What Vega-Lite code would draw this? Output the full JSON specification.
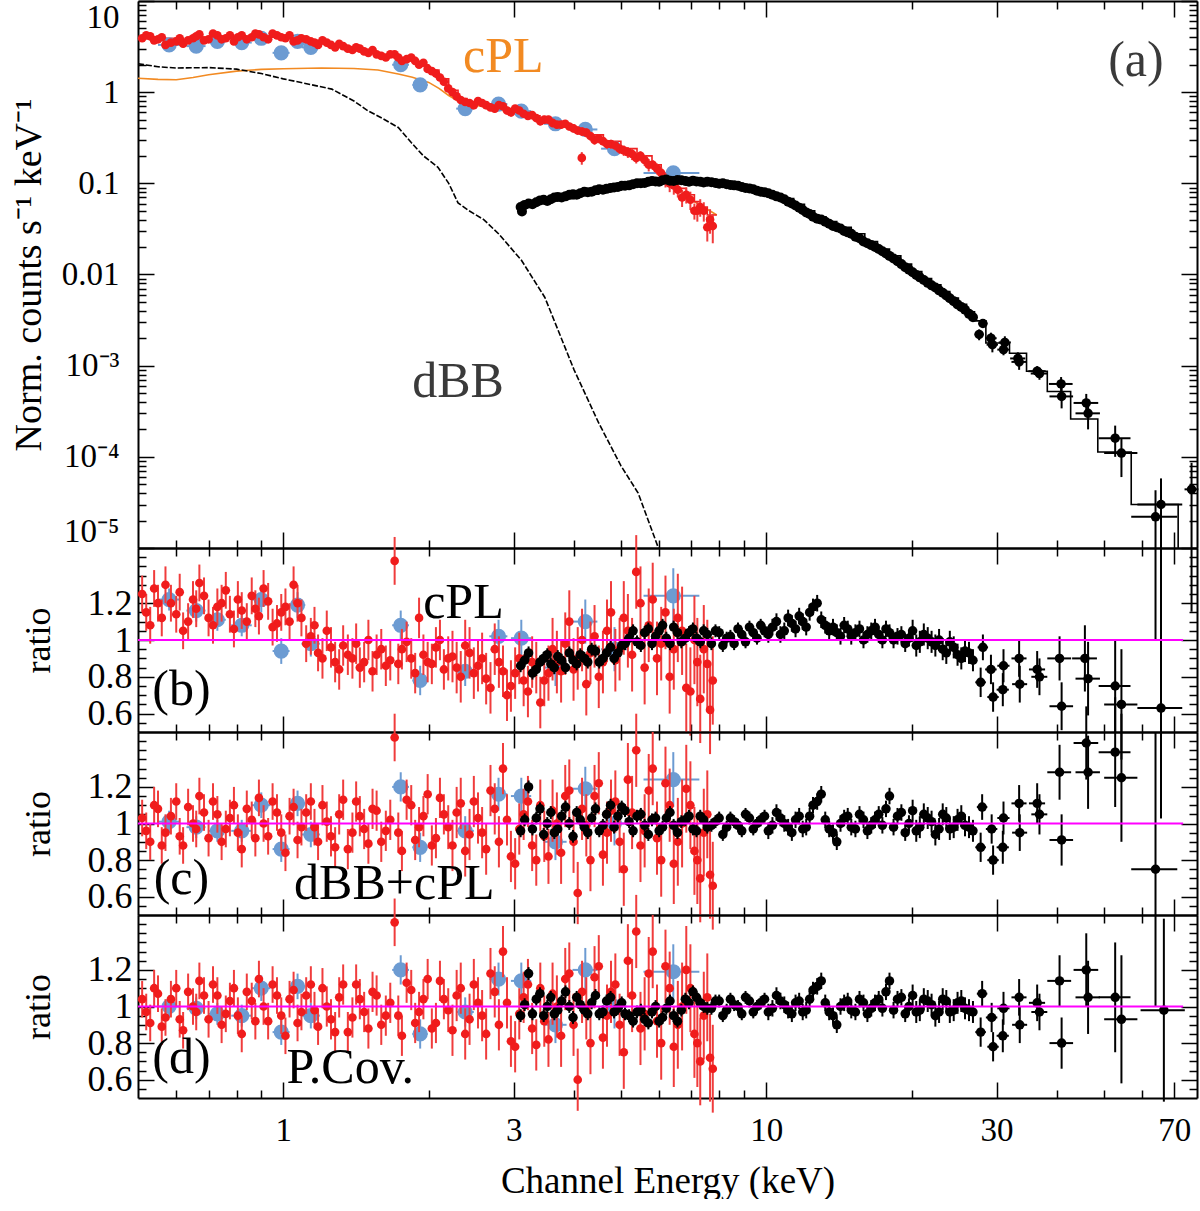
{
  "$schema": "https://vega.github.io/schema/vega-lite/v6.json",
  "background": "white",
  "padding": {"left": 9, "top": -11, "right": 0, "bottom": 0},
  "spacing": 0,
  "bounds": "flush",
  "config": {
    "view": {"stroke": null},
    "axis": {"grid": false, "domainColor": "black", "domainWidth": 2, "tickColor": "black", "tickWidth": 1.5, "labelFont": "Liberation Serif", "titleFont": "Liberation Serif", "labelColor": "black", "titleColor": "black", "titleFontWeight": "normal"}
  },
  "datasets": {
    "one": [{"x": 0.5, "y": 1}, {"x": 73, "y": 1}],
    "aO": [{"x":0.5,"y":1.42},{"x":0.55,"y":1.38},{"x":0.6,"y":1.37},{"x":0.65,"y":1.45},{"x":0.7,"y":1.55},{"x":0.8,"y":1.7},{"x":0.9,"y":1.78},{"x":1.0,"y":1.81},{"x":1.2,"y":1.84},{"x":1.4,"y":1.82},{"x":1.57,"y":1.75},{"x":1.73,"y":1.58},{"x":1.85,"y":1.46},{"x":2.0,"y":1.28},{"x":2.1,"y":1.1},{"x":2.2,"y":0.92},{"x":2.3,"y":0.8},{"x":2.5,"y":0.72},{"x":2.8,"y":0.64},{"x":3.2,"y":0.55},{"x":3.6,"y":0.46},{"x":4.0,"y":0.39},{"x":4.6,"y":0.29},{"x":5.2,"y":0.22},{"x":5.8,"y":0.16},{"x":6.4,"y":0.1},{"x":7.0,"y":0.066},{"x":7.9,"y":0.045}],
    "aD": [{"x":0.5,"y":2.05},{"x":0.55,"y":1.9},{"x":0.6,"y":1.84},{"x":0.7,"y":1.86},{"x":0.8,"y":1.79},{"x":0.9,"y":1.6},{"x":1.0,"y":1.4},{"x":1.1,"y":1.26},{"x":1.26,"y":1.08},{"x":1.4,"y":0.8},{"x":1.5,"y":0.62},{"x":1.6,"y":0.52},{"x":1.73,"y":0.41},{"x":1.84,"y":0.28},{"x":1.95,"y":0.2},{"x":2.09,"y":0.15},{"x":2.2,"y":0.1},{"x":2.3,"y":0.061},{"x":2.41,"y":0.051},{"x":2.6,"y":0.04},{"x":2.79,"y":0.028},{"x":3.11,"y":0.0144},{"x":3.48,"y":0.0056},{"x":4.0,"y":0.0009},{"x":4.49,"y":0.00024},{"x":5.0,"y":0.00008},{"x":5.43,"y":0.00004},{"x":5.98,"y":0.00001}],
    "aRm": [{"x":0.5,"y":3.9},{"x":0.6,"y":3.8},{"x":0.7,"y":4.0},{"x":0.8,"y":4.0},{"x":0.9,"y":4.0},{"x":1.0,"y":3.9},{"x":1.1,"y":3.7},{"x":1.2,"y":3.4},{"x":1.3,"y":3.1},{"x":1.4,"y":2.9},{"x":1.5,"y":2.7},{"x":1.6,"y":2.5},{"x":1.7,"y":2.35},{"x":1.8,"y":2.2},{"x":1.9,"y":2.0},{"x":2.0,"y":1.75},{"x":2.1,"y":1.4},{"x":2.2,"y":1.05},{"x":2.3,"y":0.85},{"x":2.4,"y":0.78},{"x":2.6,"y":0.72},{"x":2.8,"y":0.66},{"x":3.0,"y":0.6},{"x":3.2,"y":0.55},{"x":3.4,"y":0.5},{"x":3.6,"y":0.46},{"x":3.8,"y":0.43},{"x":4.0,"y":0.39},{"x":4.3,"y":0.34},{"x":4.6,"y":0.29},{"x":5.0,"y":0.24},{"x":5.4,"y":0.2},{"x":5.8,"y":0.16},{"x":6.06,"y":0.13},{"x":6.31,"y":0.105},{"x":6.56,"y":0.088},{"x":6.83,"y":0.075},{"x":7.1,"y":0.063},{"x":7.3,"y":0.055},{"x":7.55,"y":0.045},{"x":7.9,"y":0.045}],
    "aR": [{"x":0.51,"y":3.9,"e":0.3},{"x":0.53,"y":4.1,"e":0.3},{"x":0.55,"y":3.8,"e":0.3},{"x":0.57,"y":3.3,"e":0.3},{"x":0.6,"y":3.6,"e":0.3},{"x":0.62,"y":3.4,"e":0.3},{"x":0.65,"y":3.9,"e":0.3},{"x":0.67,"y":4.3,"e":0.35},{"x":0.7,"y":3.8,"e":0.3},{"x":0.73,"y":4.2,"e":0.3},{"x":0.76,"y":3.9,"e":0.3},{"x":0.79,"y":3.6,"e":0.3},{"x":0.82,"y":4.2,"e":0.3},{"x":0.86,"y":4.0,"e":0.3},{"x":0.89,"y":4.3,"e":0.3},{"x":0.93,"y":3.8,"e":0.3},{"x":0.97,"y":4.2,"e":0.3},{"x":1.01,"y":3.9,"e":0.3},{"x":1.05,"y":3.6,"e":0.25},{"x":1.09,"y":3.9,"e":0.3},{"x":1.14,"y":3.6,"e":0.25},{"x":1.18,"y":3.3,"e":0.25},{"x":1.23,"y":3.5,"e":0.25},{"x":1.28,"y":3.1,"e":0.25},{"x":1.33,"y":3.2,"e":0.25},{"x":1.39,"y":2.9,"e":0.2},{"x":1.44,"y":3.0,"e":0.2},{"x":1.5,"y":2.7,"e":0.2},{"x":1.56,"y":2.6,"e":0.2},{"x":1.63,"y":2.4,"e":0.2},{"x":1.7,"y":2.6,"e":0.2},{"x":1.76,"y":2.2,"e":0.2},{"x":1.84,"y":2.4,"e":0.2},{"x":1.91,"y":2.0,"e":0.15},{"x":1.99,"y":1.8,"e":0.15},{"x":2.07,"y":1.6,"e":0.15},{"x":2.15,"y":1.3,"e":0.12},{"x":2.24,"y":1.0,"e":0.1},{"x":2.33,"y":0.82,"e":0.08},{"x":2.43,"y":0.76,"e":0.07},{"x":2.53,"y":0.8,"e":0.07},{"x":2.63,"y":0.72,"e":0.07},{"x":2.74,"y":0.66,"e":0.06},{"x":2.85,"y":0.7,"e":0.06},{"x":2.96,"y":0.6,"e":0.06},{"x":3.08,"y":0.63,"e":0.06},{"x":3.21,"y":0.55,"e":0.05},{"x":3.34,"y":0.52,"e":0.05},{"x":3.47,"y":0.5,"e":0.05},{"x":3.61,"y":0.46,"e":0.05},{"x":3.76,"y":0.44,"e":0.04},{"x":3.91,"y":0.42,"e":0.04},{"x":4.07,"y":0.38,"e":0.04},{"x":4.15,"y":0.19,"e":0.03},{"x":4.24,"y":0.36,"e":0.04},{"x":4.41,"y":0.3,"e":0.035},{"x":4.59,"y":0.29,"e":0.03},{"x":4.77,"y":0.27,"e":0.03},{"x":4.97,"y":0.24,"e":0.03},{"x":5.17,"y":0.22,"e":0.03},{"x":5.38,"y":0.19,"e":0.025},{"x":5.6,"y":0.18,"e":0.025},{"x":5.82,"y":0.16,"e":0.02},{"x":6.06,"y":0.13,"e":0.02},{"x":6.31,"y":0.1,"e":0.02},{"x":6.56,"y":0.085,"e":0.015},{"x":6.83,"y":0.075,"e":0.015},{"x":7.1,"y":0.05,"e":0.01},{"x":7.3,"y":0.055,"e":0.012},{"x":7.55,"y":0.033,"e":0.01},{"x":7.75,"y":0.034,"e":0.012},
      {"x":0.52,"y":4.2,"e":0.3},{"x":0.54,"y":3.7,"e":0.3},{"x":0.56,"y":4.0,"e":0.3},{"x":0.585,"y":3.5,"e":0.3},{"x":0.61,"y":3.9,"e":0.3},{"x":0.635,"y":3.7,"e":0.3},{"x":0.66,"y":4.1,"e":0.3},{"x":0.685,"y":3.7,"e":0.3},{"x":0.715,"y":4.4,"e":0.3},{"x":0.745,"y":3.8,"e":0.3},{"x":0.775,"y":4.2,"e":0.3},{"x":0.805,"y":4.0,"e":0.3},{"x":0.84,"y":3.8,"e":0.3},{"x":0.875,"y":4.4,"e":0.3},{"x":0.91,"y":4.0,"e":0.3},{"x":0.95,"y":4.4,"e":0.3},{"x":0.99,"y":4.0,"e":0.3},{"x":1.03,"y":4.2,"e":0.3},{"x":1.07,"y":3.7,"e":0.25},{"x":1.115,"y":3.8,"e":0.25},{"x":1.16,"y":3.5,"e":0.25},{"x":1.205,"y":3.7,"e":0.25},{"x":1.255,"y":3.3,"e":0.25},{"x":1.305,"y":3.4,"e":0.25},{"x":1.36,"y":3.0,"e":0.2},{"x":1.415,"y":3.1,"e":0.2},{"x":1.47,"y":2.8,"e":0.2},{"x":1.53,"y":2.9,"e":0.2},{"x":1.595,"y":2.5,"e":0.2},{"x":1.665,"y":2.6,"e":0.2},{"x":1.73,"y":2.4,"e":0.2},{"x":1.8,"y":2.3,"e":0.2},{"x":1.875,"y":2.2,"e":0.2},{"x":1.95,"y":2.1,"e":0.15},{"x":2.03,"y":1.7,"e":0.15},{"x":2.11,"y":1.45,"e":0.12},{"x":2.195,"y":1.1,"e":0.1},{"x":2.285,"y":0.9,"e":0.08},{"x":2.38,"y":0.78,"e":0.07},{"x":2.48,"y":0.72,"e":0.07},{"x":2.58,"y":0.76,"e":0.07},{"x":2.685,"y":0.68,"e":0.06},{"x":2.795,"y":0.72,"e":0.06},{"x":2.905,"y":0.63,"e":0.06},{"x":3.02,"y":0.66,"e":0.06},{"x":3.145,"y":0.58,"e":0.05},{"x":3.275,"y":0.56,"e":0.05},{"x":3.405,"y":0.48,"e":0.05},{"x":3.54,"y":0.5,"e":0.05},{"x":3.685,"y":0.44,"e":0.04},{"x":3.835,"y":0.45,"e":0.04},{"x":3.99,"y":0.4,"e":0.04},{"x":4.155,"y":0.37,"e":0.04},{"x":4.325,"y":0.33,"e":0.035},{"x":4.5,"y":0.31,"e":0.035},{"x":4.68,"y":0.27,"e":0.03},{"x":4.87,"y":0.26,"e":0.03},{"x":5.07,"y":0.23,"e":0.03},{"x":5.275,"y":0.21,"e":0.03},{"x":5.49,"y":0.2,"e":0.025},{"x":5.71,"y":0.16,"e":0.025},{"x":5.94,"y":0.145,"e":0.02},{"x":6.185,"y":0.11,"e":0.02},{"x":6.435,"y":0.095,"e":0.02},{"x":6.695,"y":0.07,"e":0.015},{"x":6.965,"y":0.066,"e":0.015},{"x":7.2,"y":0.05,"e":0.012},{"x":7.425,"y":0.05,"e":0.012},{"x":7.65,"y":0.04,"e":0.012}],
    "aB": [{"x":0.58,"y":3.3,"w":0.03,"e":0.15},{"x":0.66,"y":3.2,"w":0.03,"e":0.15},{"x":0.73,"y":3.6,"w":0.03,"e":0.15},{"x":0.82,"y":3.5,"w":0.04,"e":0.15},{"x":0.9,"y":3.9,"w":0.04,"e":0.17},{"x":0.99,"y":2.7,"w":0.04,"e":0.12},{"x":1.07,"y":3.6,"w":0.04,"e":0.15},{"x":1.14,"y":3.1,"w":0.05,"e":0.13},{"x":1.75,"y":2.0,"w":0.07,"e":0.08},{"x":1.92,"y":1.2,"w":0.07,"e":0.05},{"x":2.38,"y":0.66,"w":0.1,"e":0.03},{"x":2.79,"y":0.74,"w":0.12,"e":0.03},{"x":3.11,"y":0.62,"w":0.15,"e":0.03},{"x":3.66,"y":0.45,"w":0.2,"e":0.02},{"x":4.22,"y":0.39,"w":0.25,"e":0.02},{"x":4.85,"y":0.24,"w":0.3,"e":0.015},{"x":6.42,"y":0.13,"w":0.85,"e":0.01}],
    "aK": [{"x":3.1,"y":0.055},{"x":3.12,"y":0.049},{"x":3.22,"y":0.06},{"x":3.34,"y":0.062},{"x":3.46,"y":0.066},{"x":3.58,"y":0.067},{"x":3.7,"y":0.071},{"x":3.84,"y":0.072},{"x":3.98,"y":0.076},{"x":4.12,"y":0.078},{"x":4.27,"y":0.08},{"x":4.43,"y":0.084},{"x":4.59,"y":0.085},{"x":4.76,"y":0.089},{"x":4.93,"y":0.091},{"x":5.1,"y":0.094},{"x":5.3,"y":0.098},{"x":5.5,"y":0.1},{"x":5.7,"y":0.104},{"x":5.9,"y":0.105},{"x":6.1,"y":0.108},{"x":6.32,"y":0.107},{"x":6.55,"y":0.109},{"x":6.8,"y":0.106},{"x":7.05,"y":0.107},{"x":7.3,"y":0.104},{"x":7.55,"y":0.104},{"x":7.85,"y":0.101},{"x":8.13,"y":0.1},{"x":8.43,"y":0.096},{"x":8.74,"y":0.094},{"x":9.06,"y":0.089},{"x":9.4,"y":0.086},{"x":9.74,"y":0.081},{"x":10.1,"y":0.078},{"x":10.5,"y":0.072},{"x":10.9,"y":0.067},{"x":11.3,"y":0.06},{"x":11.7,"y":0.054},{"x":12.1,"y":0.048},{"x":12.5,"y":0.043},{"x":13.0,"y":0.04},{"x":13.5,"y":0.036},{"x":14.0,"y":0.033},{"x":14.5,"y":0.03},{"x":15.0,"y":0.028},{"x":15.6,"y":0.025},{"x":16.2,"y":0.022},{"x":16.8,"y":0.02},{"x":17.4,"y":0.018},{"x":18.0,"y":0.016},{"x":18.7,"y":0.014},{"x":19.4,"y":0.012},{"x":20.1,"y":0.0106},{"x":20.8,"y":0.0093},{"x":21.6,"y":0.0081},{"x":22.4,"y":0.0072},{"x":23.2,"y":0.0063},{"x":24.0,"y":0.0055},{"x":24.9,"y":0.0047},{"x":25.8,"y":0.0041},{"x":26.8,"y":0.0034},
      {"x":3.16,"y":0.058},{"x":3.28,"y":0.059},{"x":3.4,"y":0.065},{"x":3.52,"y":0.064},{"x":3.64,"y":0.07},{"x":3.77,"y":0.07},{"x":3.91,"y":0.075},{"x":4.05,"y":0.075},{"x":4.2,"y":0.081},{"x":4.35,"y":0.081},{"x":4.51,"y":0.086},{"x":4.67,"y":0.087},{"x":4.84,"y":0.09},{"x":5.02,"y":0.094},{"x":5.2,"y":0.095},{"x":5.4,"y":0.1},{"x":5.6,"y":0.101},{"x":5.8,"y":0.106},{"x":6.0,"y":0.104},{"x":6.21,"y":0.11},{"x":6.43,"y":0.106},{"x":6.67,"y":0.108},{"x":6.92,"y":0.104},{"x":7.17,"y":0.105},{"x":7.42,"y":0.102},{"x":7.7,"y":0.103},{"x":7.99,"y":0.099},{"x":8.28,"y":0.098},{"x":8.58,"y":0.095},{"x":8.9,"y":0.091},{"x":9.23,"y":0.088},{"x":9.57,"y":0.083},{"x":9.92,"y":0.08},{"x":10.3,"y":0.075},{"x":10.7,"y":0.07},{"x":11.1,"y":0.063},{"x":11.5,"y":0.057},{"x":11.9,"y":0.051},{"x":12.3,"y":0.046},{"x":12.75,"y":0.041},{"x":13.25,"y":0.038},{"x":13.75,"y":0.034},{"x":14.25,"y":0.032},{"x":14.75,"y":0.029},{"x":15.3,"y":0.026},{"x":15.9,"y":0.023},{"x":16.5,"y":0.021},{"x":17.1,"y":0.019},{"x":17.7,"y":0.017},{"x":18.35,"y":0.015},{"x":19.05,"y":0.013},{"x":19.75,"y":0.0113},{"x":20.45,"y":0.0099},{"x":21.2,"y":0.0087},{"x":22.0,"y":0.0076},{"x":22.8,"y":0.0067},{"x":23.6,"y":0.0059},{"x":24.45,"y":0.0051},{"x":25.35,"y":0.0044},{"x":26.3,"y":0.0037}],
    "aKm": [{"x":3.05,"y":0.056},{"x":3.3,"y":0.062},{"x":3.6,"y":0.068},{"x":4.0,"y":0.076},{"x":4.5,"y":0.084},{"x":5.0,"y":0.093},{"x":5.5,"y":0.1},{"x":6.0,"y":0.106},{"x":6.6,"y":0.108},{"x":7.2,"y":0.105},{"x":7.8,"y":0.102},{"x":8.4,"y":0.097},{"x":9.0,"y":0.09},{"x":9.6,"y":0.083},{"x":10.2,"y":0.076},{"x":10.8,"y":0.068},{"x":11.4,"y":0.059},{"x":12.0,"y":0.05},{"x":12.6,"y":0.043},{"x":13.3,"y":0.038},{"x":14.0,"y":0.033},{"x":15.0,"y":0.028},{"x":16.0,"y":0.023},{"x":17.0,"y":0.019},{"x":18.0,"y":0.016},{"x":19.0,"y":0.013},{"x":20.0,"y":0.0108},{"x":21.0,"y":0.009},{"x":22.0,"y":0.0077},{"x":23.0,"y":0.0065},{"x":24.0,"y":0.0055},{"x":25.0,"y":0.0047},{"x":26.0,"y":0.0039},{"x":27.0,"y":0.0031},{"x":28.5,"y":0.00177},{"x":31.9,"y":0.00137},{"x":34.6,"y":0.00087},{"x":38.2,"y":0.00052},{"x":42.7,"y":0.00026},{"x":48.6,"y":0.000113},{"x":57,"y":0.00003},{"x":71.3,"y":0.00001}],
    "aKh": [{"x":27.6,"y":0.0022,"w":0.6,"e":0.0003},{"x":28.1,"y":0.0029,"w":0.6,"e":0.0003},{"x":29.2,"y":0.002,"w":0.8,"e":0.0003},{"x":29.4,"y":0.0017,"w":0.8,"e":0.0003},{"x":31.0,"y":0.0015,"w":0.9,"e":0.0002},{"x":31.2,"y":0.0018,"w":0.9,"e":0.0003},{"x":33.2,"y":0.0012,"w":1.2,"e":0.0002},{"x":33.4,"y":0.0011,"w":1.2,"e":0.0002},{"x":36.4,"y":0.00087,"w":1.5,"e":0.00012},{"x":36.8,"y":0.00082,"w":1.5,"e":0.00012},{"x":40.8,"y":0.00063,"w":2.3,"e":0.00012},{"x":40.9,"y":0.00046,"w":2.3,"e":0.00012},{"x":46.0,"y":0.00039,"w":2.7,"e":0.0001},{"x":46.4,"y":0.0003,"w":2.7,"e":0.0001},{"x":52.8,"y":0.00016,"w":4,"e":0.00006},{"x":54.4,"y":0.00011,"w":4.3,"e":0.00005},{"x":64.0,"y":0.000022,"w":7,"e":0.000021},{"x":65.7,"y":0.00003,"w":7,"e":0.000028},{"x":76.0,"y":0.000044,"w":2.5,"e":0.000042}],
    "aT": [{"x":58.3,"y":2.19,"t":"(a)"},{"x":2.3,"y":0.00067,"t":"dBB"}],
    "aTo": [{"x":2.855,"y":2.43,"t":"cPL"}],
    "bR": [{"x":0.51,"y":1.25,"e":0.1},{"x":0.53,"y":1.08,"e":0.1},{"x":0.55,"y":1.2,"e":0.1},{"x":0.57,"y":1.3,"e":0.1},{"x":0.6,"y":1.14,"e":0.1},{"x":0.62,"y":1.05,"e":0.1},{"x":0.65,"y":1.22,"e":0.1},{"x":0.67,"y":1.31,"e":0.1},{"x":0.7,"y":1.12,"e":0.1},{"x":0.73,"y":1.18,"e":0.1},{"x":0.76,"y":1.27,"e":0.1},{"x":0.79,"y":1.06,"e":0.1},{"x":0.82,"y":1.16,"e":0.1},{"x":0.86,"y":1.24,"e":0.1},{"x":0.89,"y":1.13,"e":0.1},{"x":0.93,"y":1.21,"e":0.1},{"x":0.97,"y":1.09,"e":0.1},{"x":1.01,"y":1.18,"e":0.1},{"x":1.05,"y":1.3,"e":0.1},{"x":1.09,"y":1.12,"e":0.1},{"x":1.14,"y":1.02,"e":0.1},{"x":1.18,"y":0.93,"e":0.1},{"x":1.23,"y":1.05,"e":0.11},{"x":1.28,"y":0.88,"e":0.11},{"x":1.33,"y":0.97,"e":0.11},{"x":1.39,"y":0.9,"e":0.11},{"x":1.44,"y":0.85,"e":0.11},{"x":1.5,"y":1.0,"e":0.11},{"x":1.56,"y":0.92,"e":0.11},{"x":1.63,"y":0.86,"e":0.11},{"x":1.7,"y":1.43,"e":0.13},{"x":1.76,"y":0.95,"e":0.11},{"x":1.84,"y":0.9,"e":0.11},{"x":1.91,"y":1.12,"e":0.11},{"x":1.99,"y":0.88,"e":0.11},{"x":2.07,"y":0.96,"e":0.11},{"x":2.15,"y":0.84,"e":0.11},{"x":2.24,"y":0.91,"e":0.14},{"x":2.33,"y":0.8,"e":0.14},{"x":2.43,"y":0.93,"e":0.14},{"x":2.53,"y":0.86,"e":0.14},{"x":2.63,"y":0.79,"e":0.14},{"x":2.74,"y":0.95,"e":0.14},{"x":2.85,"y":0.83,"e":0.14},{"x":2.96,"y":0.75,"e":0.14},{"x":3.08,"y":0.9,"e":0.14},{"x":3.21,"y":0.72,"e":0.14},{"x":3.34,"y":0.85,"e":0.14},{"x":3.47,"y":0.78,"e":0.14},{"x":3.61,"y":0.95,"e":0.17},{"x":3.76,"y":0.83,"e":0.17},{"x":3.91,"y":1.1,"e":0.17},{"x":4.07,"y":0.9,"e":0.17},{"x":4.24,"y":0.76,"e":0.17},{"x":4.41,"y":1.02,"e":0.17},{"x":4.59,"y":0.88,"e":0.17},{"x":4.77,"y":1.15,"e":0.17},{"x":4.97,"y":0.95,"e":0.17},{"x":5.17,"y":1.05,"e":0.2},{"x":5.38,"y":1.37,"e":0.2},{"x":5.6,"y":0.85,"e":0.2},{"x":5.82,"y":1.22,"e":0.2},{"x":6.06,"y":0.98,"e":0.2},{"x":6.31,"y":0.8,"e":0.2},{"x":6.56,"y":1.12,"e":0.24},{"x":6.83,"y":0.74,"e":0.24},{"x":7.1,"y":1.0,"e":0.24},{"x":7.3,"y":0.68,"e":0.24},{"x":7.55,"y":0.87,"e":0.24},{"x":7.75,"y":0.78,"e":0.24},
      {"x":0.52,"y":1.15,"e":0.1},{"x":0.54,"y":1.28,"e":0.1},{"x":0.56,"y":1.12,"e":0.1},{"x":0.585,"y":1.2,"e":0.1},{"x":0.61,"y":1.26,"e":0.1},{"x":0.635,"y":1.1,"e":0.1},{"x":0.66,"y":1.17,"e":0.1},{"x":0.685,"y":1.24,"e":0.1},{"x":0.715,"y":1.08,"e":0.1},{"x":0.745,"y":1.2,"e":0.1},{"x":0.775,"y":1.14,"e":0.1},{"x":0.805,"y":1.22,"e":0.1},{"x":0.84,"y":1.1,"e":0.1},{"x":0.875,"y":1.17,"e":0.1},{"x":0.91,"y":1.28,"e":0.1},{"x":0.95,"y":1.07,"e":0.1},{"x":0.99,"y":1.15,"e":0.1},{"x":1.03,"y":1.1,"e":0.1},{"x":1.07,"y":1.2,"e":0.1},{"x":1.115,"y":0.98,"e":0.1},{"x":1.16,"y":1.08,"e":0.1},{"x":1.205,"y":0.9,"e":0.11},{"x":1.255,"y":0.96,"e":0.11},{"x":1.305,"y":0.84,"e":0.11},{"x":1.36,"y":0.92,"e":0.11},{"x":1.415,"y":0.98,"e":0.11},{"x":1.47,"y":0.88,"e":0.11},{"x":1.53,"y":0.83,"e":0.11},{"x":1.595,"y":0.95,"e":0.11},{"x":1.665,"y":0.89,"e":0.11},{"x":1.73,"y":0.87,"e":0.11},{"x":1.8,"y":0.99,"e":0.11},{"x":1.875,"y":0.82,"e":0.11},{"x":1.95,"y":0.92,"e":0.11},{"x":2.03,"y":0.87,"e":0.11},{"x":2.11,"y":1.0,"e":0.11},{"x":2.195,"y":0.9,"e":0.12},{"x":2.285,"y":0.85,"e":0.14},{"x":2.38,"y":0.97,"e":0.14},{"x":2.48,"y":0.82,"e":0.14},{"x":2.58,"y":0.9,"e":0.14},{"x":2.685,"y":0.74,"e":0.14},{"x":2.795,"y":0.88,"e":0.14},{"x":2.905,"y":0.7,"e":0.14},{"x":3.02,"y":0.82,"e":0.14},{"x":3.145,"y":0.78,"e":0.14},{"x":3.275,"y":0.88,"e":0.14},{"x":3.405,"y":0.66,"e":0.14},{"x":3.54,"y":0.82,"e":0.15},{"x":3.685,"y":0.88,"e":0.17},{"x":3.835,"y":0.98,"e":0.17},{"x":3.99,"y":0.84,"e":0.17},{"x":4.155,"y":1.0,"e":0.17},{"x":4.325,"y":0.93,"e":0.17},{"x":4.5,"y":0.8,"e":0.17},{"x":4.68,"y":1.05,"e":0.17},{"x":4.87,"y":0.89,"e":0.17},{"x":5.07,"y":1.12,"e":0.2},{"x":5.275,"y":0.92,"e":0.2},{"x":5.49,"y":1.2,"e":0.2},{"x":5.71,"y":1.08,"e":0.2},{"x":5.94,"y":0.9,"e":0.2},{"x":6.185,"y":1.15,"e":0.2},{"x":6.435,"y":0.95,"e":0.22},{"x":6.695,"y":1.05,"e":0.24},{"x":6.965,"y":0.72,"e":0.24},{"x":7.2,"y":0.88,"e":0.24},{"x":7.425,"y":0.95,"e":0.24},{"x":7.65,"y":0.62,"e":0.24}],
    "bB": [{"x":0.58,"y":1.22,"w":0.03,"e":0.06},{"x":0.66,"y":1.16,"w":0.03,"e":0.06},{"x":0.73,"y":1.11,"w":0.03,"e":0.06},{"x":0.82,"y":1.08,"w":0.04,"e":0.06},{"x":0.9,"y":1.22,"w":0.04,"e":0.07},{"x":0.99,"y":0.94,"w":0.04,"e":0.07},{"x":1.07,"y":1.19,"w":0.04,"e":0.07},{"x":1.14,"y":0.98,"w":0.05,"e":0.07},{"x":1.75,"y":1.08,"w":0.07,"e":0.08},{"x":1.92,"y":0.78,"w":0.07,"e":0.08},{"x":2.38,"y":0.83,"w":0.1,"e":0.08},{"x":2.79,"y":1.02,"w":0.12,"e":0.09},{"x":3.11,"y":1.01,"w":0.15,"e":0.1},{"x":3.66,"y":0.85,"w":0.2,"e":0.1},{"x":4.22,"y":1.1,"w":0.25,"e":0.12},{"x":4.85,"y":0.95,"w":0.3,"e":0.12},{"x":6.42,"y":1.24,"w":0.85,"e":0.15}],
    "bK": [{"x":3.1,"y":0.86,"e":0.035},{"x":3.22,"y":0.93,"e":0.035},{"x":3.34,"y":0.84,"e":0.035},{"x":3.46,"y":0.9,"e":0.035},{"x":3.58,"y":0.87,"e":0.035},{"x":3.7,"y":0.91,"e":0.035},{"x":3.84,"y":0.85,"e":0.035},{"x":3.98,"y":0.89,"e":0.035},{"x":4.12,"y":0.92,"e":0.035},{"x":4.27,"y":0.88,"e":0.035},{"x":4.43,"y":0.94,"e":0.035},{"x":4.59,"y":0.9,"e":0.035},{"x":4.76,"y":0.96,"e":0.035},{"x":4.93,"y":0.93,"e":0.035},{"x":5.1,"y":0.98,"e":0.035},{"x":5.3,"y":1.05,"e":0.035},{"x":5.5,"y":0.97,"e":0.035},{"x":5.7,"y":1.06,"e":0.035},{"x":5.9,"y":1.02,"e":0.035},{"x":6.1,"y":1.08,"e":0.035},{"x":6.32,"y":0.98,"e":0.035},{"x":6.55,"y":1.04,"e":0.035},{"x":6.8,"y":1.01,"e":0.035},{"x":7.05,"y":1.06,"e":0.035},{"x":7.3,"y":0.99,"e":0.035},{"x":7.55,"y":1.03,"e":0.035},{"x":7.85,"y":1.05,"e":0.035},{"x":8.13,"y":0.97,"e":0.035},{"x":8.43,"y":1.02,"e":0.035},{"x":8.74,"y":1.06,"e":0.035},{"x":9.06,"y":0.99,"e":0.035},{"x":9.4,"y":1.04,"e":0.035},{"x":9.74,"y":1.08,"e":0.035},{"x":10.1,"y":1.03,"e":0.045},{"x":10.5,"y":1.1,"e":0.045},{"x":10.9,"y":1.05,"e":0.045},{"x":11.3,"y":1.09,"e":0.045},{"x":11.7,"y":1.13,"e":0.045},{"x":12.1,"y":1.07,"e":0.045},{"x":12.5,"y":1.18,"e":0.045},{"x":13.0,"y":1.11,"e":0.045},{"x":13.5,"y":1.05,"e":0.045},{"x":14.0,"y":1.04,"e":0.045},{"x":14.5,"y":1.08,"e":0.045},{"x":15.0,"y":1.02,"e":0.045},{"x":15.6,"y":1.06,"e":0.045},{"x":16.2,"y":1.03,"e":0.045},{"x":16.8,"y":1.07,"e":0.045},{"x":17.4,"y":1.0,"e":0.045},{"x":18.0,"y":1.04,"e":0.045},{"x":18.7,"y":1.02,"e":0.045},{"x":19.4,"y":0.98,"e":0.045},{"x":20.1,"y":1.05,"e":0.06},{"x":20.8,"y":0.99,"e":0.06},{"x":21.6,"y":1.01,"e":0.06},{"x":22.4,"y":0.97,"e":0.06},{"x":23.2,"y":0.95,"e":0.06},{"x":24.0,"y":0.99,"e":0.06},{"x":24.9,"y":0.92,"e":0.06},{"x":25.8,"y":0.94,"e":0.06},{"x":26.8,"y":0.89,"e":0.06},
      {"x":3.16,"y":0.89,"e":0.035},{"x":3.28,"y":0.82,"e":0.035},{"x":3.4,"y":0.88,"e":0.035},{"x":3.52,"y":0.92,"e":0.035},{"x":3.64,"y":0.85,"e":0.035},{"x":3.77,"y":0.89,"e":0.035},{"x":3.91,"y":0.93,"e":0.035},{"x":4.05,"y":0.87,"e":0.035},{"x":4.2,"y":0.9,"e":0.035},{"x":4.35,"y":0.95,"e":0.035},{"x":4.51,"y":0.88,"e":0.035},{"x":4.67,"y":0.93,"e":0.035},{"x":4.84,"y":0.9,"e":0.035},{"x":5.02,"y":0.97,"e":0.035},{"x":5.2,"y":1.01,"e":0.035},{"x":5.4,"y":0.99,"e":0.035},{"x":5.6,"y":1.04,"e":0.035},{"x":5.8,"y":0.98,"e":0.035},{"x":6.0,"y":1.05,"e":0.035},{"x":6.21,"y":1.01,"e":0.035},{"x":6.43,"y":1.07,"e":0.035},{"x":6.67,"y":0.99,"e":0.035},{"x":6.92,"y":1.04,"e":0.035},{"x":7.17,"y":1.01,"e":0.035},{"x":7.42,"y":1.05,"e":0.035},{"x":7.7,"y":0.98,"e":0.035},{"x":7.99,"y":1.04,"e":0.035},{"x":8.28,"y":1.01,"e":0.035},{"x":8.58,"y":0.98,"e":0.035},{"x":8.9,"y":1.03,"e":0.035},{"x":9.23,"y":1.07,"e":0.035},{"x":9.57,"y":1.01,"e":0.035},{"x":9.92,"y":1.05,"e":0.035},{"x":10.3,"y":1.07,"e":0.045},{"x":10.7,"y":1.03,"e":0.045},{"x":11.1,"y":1.12,"e":0.045},{"x":11.5,"y":1.06,"e":0.045},{"x":11.9,"y":1.1,"e":0.045},{"x":12.3,"y":1.15,"e":0.045},{"x":12.75,"y":1.2,"e":0.045},{"x":13.25,"y":1.08,"e":0.045},{"x":13.75,"y":1.07,"e":0.045},{"x":14.25,"y":1.02,"e":0.045},{"x":14.75,"y":1.06,"e":0.045},{"x":15.3,"y":1.04,"e":0.045},{"x":15.9,"y":1.0,"e":0.045},{"x":16.5,"y":1.05,"e":0.045},{"x":17.1,"y":1.03,"e":0.045},{"x":17.7,"y":1.06,"e":0.045},{"x":18.35,"y":1.0,"e":0.045},{"x":19.05,"y":1.03,"e":0.045},{"x":19.75,"y":1.01,"e":0.045},{"x":20.45,"y":0.97,"e":0.06},{"x":21.2,"y":1.03,"e":0.06},{"x":22.0,"y":0.99,"e":0.06},{"x":22.8,"y":1.0,"e":0.06},{"x":23.6,"y":0.93,"e":0.06},{"x":24.45,"y":0.96,"e":0.06},{"x":25.35,"y":0.9,"e":0.06},{"x":26.3,"y":0.93,"e":0.06}],
    "bKh": [{"x":28.1,"y":0.96,"w":0.7,"e":0.07},{"x":27.8,"y":0.77,"w":0.7,"e":0.08},{"x":29.2,"y":0.84,"w":0.8,"e":0.08},{"x":29.5,"y":0.69,"w":0.8,"e":0.08},{"x":31.0,"y":0.86,"w":0.9,"e":0.09},{"x":30.9,"y":0.73,"w":0.9,"e":0.09},{"x":33.4,"y":0.9,"w":1.2,"e":0.1},{"x":33.5,"y":0.76,"w":1.2,"e":0.1},{"x":36.4,"y":0.84,"w":1.4,"e":0.1},{"x":36.8,"y":0.8,"w":1.4,"e":0.1},{"x":40.5,"y":0.9,"w":2.3,"e":0.12},{"x":40.9,"y":0.64,"w":2.3,"e":0.13},{"x":45.7,"y":0.9,"w":2.7,"e":0.18},{"x":46.4,"y":0.79,"w":2.7,"e":0.2},{"x":52.8,"y":0.75,"w":4,"e":0.25},{"x":54.4,"y":0.65,"w":4.3,"e":0.3},{"x":65.7,"y":0.63,"w":7,"e":0.6}],
    "bT": [{"x":2.36,"y":1.2,"t":"cPL"},{"x":0.615,"y":0.73,"t":"(b)"}],
    "cR": [{"x":0.51,"y":1.03,"e":0.1},{"x":0.53,"y":0.9,"e":0.1},{"x":0.55,"y":1.08,"e":0.1},{"x":0.57,"y":0.95,"e":0.1},{"x":0.6,"y":1.12,"e":0.1},{"x":0.62,"y":0.88,"e":0.1},{"x":0.65,"y":1.0,"e":0.1},{"x":0.67,"y":1.15,"e":0.1},{"x":0.7,"y":0.92,"e":0.1},{"x":0.73,"y":1.05,"e":0.1},{"x":0.76,"y":0.97,"e":0.1},{"x":0.79,"y":1.1,"e":0.1},{"x":0.82,"y":0.86,"e":0.1},{"x":0.86,"y":1.02,"e":0.1},{"x":0.89,"y":1.14,"e":0.1},{"x":0.93,"y":0.93,"e":0.1},{"x":0.97,"y":1.06,"e":0.1},{"x":1.01,"y":0.84,"e":0.1},{"x":1.05,"y":1.09,"e":0.1},{"x":1.09,"y":0.98,"e":0.1},{"x":1.14,"y":1.12,"e":0.1},{"x":1.18,"y":0.9,"e":0.1},{"x":1.23,"y":1.01,"e":0.11},{"x":1.28,"y":0.87,"e":0.11},{"x":1.33,"y":1.13,"e":0.11},{"x":1.39,"y":0.95,"e":0.11},{"x":1.44,"y":1.04,"e":0.11},{"x":1.5,"y":0.89,"e":0.11},{"x":1.56,"y":1.07,"e":0.11},{"x":1.63,"y":0.96,"e":0.11},{"x":1.7,"y":1.47,"e":0.13},{"x":1.76,"y":0.85,"e":0.11},{"x":1.84,"y":1.1,"e":0.11},{"x":1.91,"y":0.98,"e":0.11},{"x":1.99,"y":1.16,"e":0.11},{"x":2.07,"y":0.92,"e":0.11},{"x":2.15,"y":1.05,"e":0.11},{"x":2.24,"y":0.88,"e":0.14},{"x":2.33,"y":1.11,"e":0.14},{"x":2.43,"y":0.94,"e":0.14},{"x":2.53,"y":1.03,"e":0.14},{"x":2.63,"y":0.86,"e":0.14},{"x":2.74,"y":1.08,"e":0.14},{"x":2.85,"y":1.3,"e":0.14},{"x":2.96,"y":0.82,"e":0.14},{"x":3.08,"y":0.97,"e":0.14},{"x":3.21,"y":1.12,"e":0.14},{"x":3.34,"y":0.8,"e":0.14},{"x":3.47,"y":0.93,"e":0.14},{"x":3.61,"y":1.07,"e":0.17},{"x":3.76,"y":0.84,"e":0.17},{"x":3.91,"y":1.18,"e":0.17},{"x":4.07,"y":0.62,"e":0.17},{"x":4.24,"y":0.99,"e":0.17},{"x":4.41,"y":1.15,"e":0.17},{"x":4.59,"y":0.83,"e":0.17},{"x":4.77,"y":1.07,"e":0.17},{"x":4.97,"y":0.9,"e":0.17},{"x":5.17,"y":1.24,"e":0.2},{"x":5.38,"y":1.4,"e":0.2},{"x":5.6,"y":0.96,"e":0.2},{"x":5.82,"y":1.3,"e":0.2},{"x":6.06,"y":0.8,"e":0.2},{"x":6.31,"y":1.1,"e":0.2},{"x":6.56,"y":0.9,"e":0.24},{"x":6.83,"y":1.19,"e":0.24},{"x":7.1,"y":0.85,"e":0.24},{"x":7.3,"y":0.7,"e":0.24},{"x":7.55,"y":1.05,"e":0.24},{"x":7.75,"y":0.66,"e":0.24},
      {"x":0.52,"y":0.96,"e":0.1},{"x":0.54,"y":1.1,"e":0.1},{"x":0.56,"y":0.88,"e":0.1},{"x":0.585,"y":1.04,"e":0.1},{"x":0.61,"y":0.93,"e":0.1},{"x":0.635,"y":1.09,"e":0.1},{"x":0.66,"y":0.97,"e":0.1},{"x":0.685,"y":1.06,"e":0.1},{"x":0.715,"y":1.12,"e":0.1},{"x":0.745,"y":0.9,"e":0.1},{"x":0.775,"y":1.03,"e":0.1},{"x":0.805,"y":0.95,"e":0.1},{"x":0.84,"y":1.08,"e":0.1},{"x":0.875,"y":0.92,"e":0.1},{"x":0.91,"y":1.0,"e":0.1},{"x":0.95,"y":1.12,"e":0.1},{"x":0.99,"y":0.95,"e":0.1},{"x":1.03,"y":1.04,"e":0.1},{"x":1.07,"y":0.91,"e":0.1},{"x":1.115,"y":1.06,"e":0.1},{"x":1.16,"y":0.98,"e":0.1},{"x":1.205,"y":1.1,"e":0.11},{"x":1.255,"y":0.93,"e":0.11},{"x":1.305,"y":1.05,"e":0.11},{"x":1.36,"y":0.86,"e":0.11},{"x":1.415,"y":1.12,"e":0.11},{"x":1.47,"y":0.97,"e":0.11},{"x":1.53,"y":1.08,"e":0.11},{"x":1.595,"y":0.9,"e":0.11},{"x":1.665,"y":1.02,"e":0.11},{"x":1.73,"y":0.95,"e":0.11},{"x":1.8,"y":1.13,"e":0.11},{"x":1.875,"y":0.91,"e":0.11},{"x":1.95,"y":1.04,"e":0.11},{"x":2.03,"y":0.88,"e":0.11},{"x":2.11,"y":1.14,"e":0.11},{"x":2.195,"y":0.98,"e":0.12},{"x":2.285,"y":1.06,"e":0.14},{"x":2.38,"y":0.85,"e":0.14},{"x":2.48,"y":1.12,"e":0.14},{"x":2.58,"y":0.95,"e":0.14},{"x":2.685,"y":1.18,"e":0.14},{"x":2.795,"y":0.9,"e":0.14},{"x":2.905,"y":1.02,"e":0.14},{"x":3.02,"y":0.78,"e":0.14},{"x":3.145,"y":1.05,"e":0.14},{"x":3.275,"y":0.88,"e":0.14},{"x":3.405,"y":1.1,"e":0.14},{"x":3.54,"y":0.82,"e":0.15},{"x":3.685,"y":1.0,"e":0.17},{"x":3.835,"y":1.15,"e":0.17},{"x":3.99,"y":0.9,"e":0.17},{"x":4.155,"y":1.08,"e":0.17},{"x":4.325,"y":0.8,"e":0.17},{"x":4.5,"y":1.22,"e":0.17},{"x":4.68,"y":0.95,"e":0.17},{"x":4.87,"y":1.12,"e":0.17},{"x":5.07,"y":0.75,"e":0.2},{"x":5.275,"y":1.06,"e":0.2},{"x":5.49,"y":0.88,"e":0.2},{"x":5.71,"y":1.18,"e":0.2},{"x":5.94,"y":0.92,"e":0.2},{"x":6.185,"y":1.22,"e":0.2},{"x":6.435,"y":0.78,"e":0.22},{"x":6.695,"y":1.0,"e":0.24},{"x":6.965,"y":1.1,"e":0.24},{"x":7.2,"y":0.8,"e":0.24},{"x":7.425,"y":0.95,"e":0.24},{"x":7.65,"y":0.72,"e":0.24}],
    "cB": [{"x":0.58,"y":1.01,"w":0.03,"e":0.06},{"x":0.66,"y":0.98,"w":0.03,"e":0.06},{"x":0.73,"y":0.96,"w":0.03,"e":0.06},{"x":0.82,"y":0.96,"w":0.04,"e":0.06},{"x":0.9,"y":1.1,"w":0.04,"e":0.07},{"x":0.99,"y":0.86,"w":0.04,"e":0.07},{"x":1.07,"y":1.11,"w":0.04,"e":0.07},{"x":1.14,"y":0.94,"w":0.05,"e":0.07},{"x":1.75,"y":1.2,"w":0.07,"e":0.08},{"x":1.92,"y":0.87,"w":0.07,"e":0.08},{"x":2.38,"y":0.96,"w":0.1,"e":0.08},{"x":2.79,"y":1.16,"w":0.12,"e":0.09},{"x":3.11,"y":1.15,"w":0.15,"e":0.1},{"x":3.66,"y":0.9,"w":0.2,"e":0.1},{"x":4.22,"y":1.19,"w":0.25,"e":0.12},{"x":4.85,"y":1.0,"w":0.3,"e":0.12},{"x":6.42,"y":1.24,"w":0.85,"e":0.15}],
    "cK": [{"x":3.1,"y":0.96,"e":0.035},{"x":3.22,"y":1.2,"e":0.035},{"x":3.34,"y":1.03,"e":0.035},{"x":3.46,"y":0.94,"e":0.035},{"x":3.58,"y":1.06,"e":0.035},{"x":3.7,"y":0.97,"e":0.035},{"x":3.84,"y":1.09,"e":0.035},{"x":3.98,"y":0.93,"e":0.035},{"x":4.12,"y":1.02,"e":0.035},{"x":4.27,"y":0.95,"e":0.035},{"x":4.43,"y":1.08,"e":0.035},{"x":4.59,"y":0.99,"e":0.035},{"x":4.76,"y":1.1,"e":0.035},{"x":4.93,"y":1.04,"e":0.035},{"x":5.1,"y":1.07,"e":0.035},{"x":5.3,"y":0.96,"e":0.035},{"x":5.5,"y":1.05,"e":0.035},{"x":5.7,"y":0.94,"e":0.035},{"x":5.9,"y":1.03,"e":0.035},{"x":6.1,"y":0.98,"e":0.035},{"x":6.32,"y":1.06,"e":0.035},{"x":6.55,"y":0.95,"e":0.035},{"x":6.8,"y":1.02,"e":0.035},{"x":7.05,"y":0.97,"e":0.035},{"x":7.3,"y":1.04,"e":0.035},{"x":7.55,"y":0.98,"e":0.035},{"x":7.85,"y":1.01,"e":0.035},{"x":8.13,"y":0.94,"e":0.035},{"x":8.43,"y":1.03,"e":0.035},{"x":8.74,"y":0.99,"e":0.035},{"x":9.06,"y":1.05,"e":0.035},{"x":9.4,"y":0.97,"e":0.035},{"x":9.74,"y":1.02,"e":0.035},{"x":10.1,"y":0.96,"e":0.045},{"x":10.5,"y":1.06,"e":0.045},{"x":10.9,"y":1.0,"e":0.045},{"x":11.3,"y":0.95,"e":0.045},{"x":11.7,"y":1.04,"e":0.045},{"x":12.1,"y":0.98,"e":0.045},{"x":12.5,"y":1.1,"e":0.045},{"x":13.0,"y":1.16,"e":0.045},{"x":13.5,"y":0.97,"e":0.045},{"x":14.0,"y":0.9,"e":0.045},{"x":14.5,"y":1.03,"e":0.045},{"x":15.0,"y":0.98,"e":0.045},{"x":15.6,"y":1.05,"e":0.045},{"x":16.2,"y":0.96,"e":0.045},{"x":16.8,"y":1.02,"e":0.045},{"x":17.4,"y":0.99,"e":0.045},{"x":18.0,"y":1.15,"e":0.045},{"x":18.7,"y":1.04,"e":0.045},{"x":19.4,"y":0.95,"e":0.045},{"x":20.1,"y":1.07,"e":0.06},{"x":20.8,"y":0.98,"e":0.06},{"x":21.6,"y":1.03,"e":0.06},{"x":22.4,"y":0.94,"e":0.06},{"x":23.2,"y":1.05,"e":0.06},{"x":24.0,"y":0.97,"e":0.06},{"x":24.9,"y":1.02,"e":0.06},{"x":25.8,"y":0.99,"e":0.06},{"x":26.8,"y":0.96,"e":0.06},
      {"x":3.16,"y":1.02,"e":0.035},{"x":3.28,"y":0.97,"e":0.035},{"x":3.4,"y":1.08,"e":0.035},{"x":3.52,"y":1.0,"e":0.035},{"x":3.64,"y":0.95,"e":0.035},{"x":3.77,"y":1.04,"e":0.035},{"x":3.91,"y":1.0,"e":0.035},{"x":4.05,"y":1.06,"e":0.035},{"x":4.2,"y":0.98,"e":0.035},{"x":4.35,"y":1.03,"e":0.035},{"x":4.51,"y":0.96,"e":0.035},{"x":4.67,"y":1.05,"e":0.035},{"x":4.84,"y":0.98,"e":0.035},{"x":5.02,"y":1.09,"e":0.035},{"x":5.2,"y":1.01,"e":0.035},{"x":5.4,"y":1.04,"e":0.035},{"x":5.6,"y":0.99,"e":0.035},{"x":5.8,"y":1.02,"e":0.035},{"x":6.0,"y":0.96,"e":0.035},{"x":6.21,"y":1.03,"e":0.035},{"x":6.43,"y":0.99,"e":0.035},{"x":6.67,"y":1.01,"e":0.035},{"x":6.92,"y":1.04,"e":0.035},{"x":7.17,"y":0.96,"e":0.035},{"x":7.42,"y":1.02,"e":0.035},{"x":7.7,"y":0.99,"e":0.035},{"x":7.99,"y":1.03,"e":0.035},{"x":8.28,"y":0.98,"e":0.035},{"x":8.58,"y":1.01,"e":0.035},{"x":8.9,"y":0.96,"e":0.035},{"x":9.23,"y":1.03,"e":0.035},{"x":9.57,"y":1.0,"e":0.035},{"x":9.92,"y":1.04,"e":0.035},{"x":10.3,"y":0.99,"e":0.045},{"x":10.7,"y":1.03,"e":0.045},{"x":11.1,"y":0.98,"e":0.045},{"x":11.5,"y":1.02,"e":0.045},{"x":11.9,"y":0.97,"e":0.045},{"x":12.3,"y":1.04,"e":0.045},{"x":12.75,"y":1.12,"e":0.045},{"x":13.25,"y":1.02,"e":0.045},{"x":13.75,"y":0.95,"e":0.045},{"x":14.25,"y":1.0,"e":0.045},{"x":14.75,"y":1.04,"e":0.045},{"x":15.3,"y":0.97,"e":0.045},{"x":15.9,"y":1.02,"e":0.045},{"x":16.5,"y":0.99,"e":0.045},{"x":17.1,"y":1.05,"e":0.045},{"x":17.7,"y":1.08,"e":0.045},{"x":18.35,"y":0.98,"e":0.045},{"x":19.05,"y":1.06,"e":0.045},{"x":19.75,"y":1.0,"e":0.045},{"x":20.45,"y":0.96,"e":0.06},{"x":21.2,"y":1.05,"e":0.06},{"x":22.0,"y":1.01,"e":0.06},{"x":22.8,"y":0.97,"e":0.06},{"x":23.6,"y":1.03,"e":0.06},{"x":24.45,"y":0.98,"e":0.06},{"x":25.35,"y":1.04,"e":0.06},{"x":26.3,"y":0.98,"e":0.06}],
    "cKh": [{"x":28.0,"y":1.09,"w":0.7,"e":0.07},{"x":27.8,"y":0.87,"w":0.7,"e":0.08},{"x":29.3,"y":0.97,"w":0.8,"e":0.08},{"x":29.5,"y":0.8,"w":0.8,"e":0.08},{"x":31.0,"y":1.03,"w":0.9,"e":0.09},{"x":30.9,"y":0.87,"w":0.9,"e":0.09},{"x":33.4,"y":1.11,"w":1.2,"e":0.1},{"x":33.5,"y":0.95,"w":1.2,"e":0.1},{"x":36.4,"y":1.11,"w":1.4,"e":0.11},{"x":36.8,"y":1.05,"w":1.4,"e":0.11},{"x":40.5,"y":1.28,"w":2.3,"e":0.15},{"x":40.9,"y":0.91,"w":2.3,"e":0.14},{"x":46.0,"y":1.44,"w":2.7,"e":0.2},{"x":46.4,"y":1.28,"w":2.7,"e":0.2},{"x":52.8,"y":1.39,"w":4,"e":0.3},{"x":54.4,"y":1.25,"w":4.3,"e":0.35},{"x":64.0,"y":0.75,"w":7,"e":0.75}],
    "cT": [{"x":0.615,"y":0.695,"t":"(c)"},{"x":1.697,"y":0.668,"t":"dBB+cPL"}],
    "dR": [{"x":0.51,"y":1.04,"e":0.1},{"x":0.53,"y":0.91,"e":0.1},{"x":0.55,"y":1.07,"e":0.1},{"x":0.57,"y":0.94,"e":0.1},{"x":0.6,"y":1.1,"e":0.1},{"x":0.62,"y":0.87,"e":0.1},{"x":0.65,"y":1.0,"e":0.1},{"x":0.67,"y":1.14,"e":0.1},{"x":0.7,"y":0.93,"e":0.1},{"x":0.73,"y":1.06,"e":0.1},{"x":0.76,"y":0.96,"e":0.1},{"x":0.79,"y":1.1,"e":0.1},{"x":0.82,"y":0.85,"e":0.1},{"x":0.86,"y":1.03,"e":0.1},{"x":0.89,"y":1.15,"e":0.1},{"x":0.93,"y":0.92,"e":0.1},{"x":0.97,"y":1.06,"e":0.1},{"x":1.01,"y":0.84,"e":0.1},{"x":1.05,"y":1.09,"e":0.1},{"x":1.09,"y":0.97,"e":0.1},{"x":1.14,"y":1.12,"e":0.1},{"x":1.18,"y":0.89,"e":0.1},{"x":1.23,"y":1.0,"e":0.11},{"x":1.28,"y":0.86,"e":0.11},{"x":1.33,"y":1.12,"e":0.11},{"x":1.39,"y":0.94,"e":0.11},{"x":1.44,"y":1.04,"e":0.11},{"x":1.5,"y":0.88,"e":0.11},{"x":1.56,"y":1.06,"e":0.11},{"x":1.63,"y":0.95,"e":0.11},{"x":1.7,"y":1.46,"e":0.13},{"x":1.76,"y":0.84,"e":0.11},{"x":1.84,"y":1.09,"e":0.11},{"x":1.91,"y":0.97,"e":0.11},{"x":1.99,"y":1.15,"e":0.11},{"x":2.07,"y":0.91,"e":0.11},{"x":2.15,"y":1.04,"e":0.11},{"x":2.24,"y":0.87,"e":0.14},{"x":2.33,"y":1.1,"e":0.14},{"x":2.43,"y":0.93,"e":0.14},{"x":2.53,"y":1.02,"e":0.14},{"x":2.63,"y":0.85,"e":0.14},{"x":2.74,"y":1.08,"e":0.14},{"x":2.85,"y":1.3,"e":0.14},{"x":2.96,"y":0.81,"e":0.14},{"x":3.08,"y":0.96,"e":0.14},{"x":3.21,"y":1.12,"e":0.14},{"x":3.34,"y":0.79,"e":0.14},{"x":3.47,"y":0.92,"e":0.14},{"x":3.61,"y":1.07,"e":0.17},{"x":3.76,"y":0.84,"e":0.17},{"x":3.91,"y":1.18,"e":0.17},{"x":4.07,"y":0.6,"e":0.17},{"x":4.24,"y":0.99,"e":0.17},{"x":4.41,"y":1.16,"e":0.17},{"x":4.59,"y":0.83,"e":0.17},{"x":4.77,"y":1.08,"e":0.17},{"x":4.97,"y":0.9,"e":0.17},{"x":5.17,"y":1.25,"e":0.2},{"x":5.38,"y":1.41,"e":0.2},{"x":5.6,"y":0.96,"e":0.2},{"x":5.82,"y":1.3,"e":0.2},{"x":6.06,"y":0.8,"e":0.2},{"x":6.31,"y":1.1,"e":0.2},{"x":6.56,"y":0.9,"e":0.24},{"x":6.83,"y":1.2,"e":0.24},{"x":7.1,"y":0.85,"e":0.24},{"x":7.3,"y":0.7,"e":0.24},{"x":7.55,"y":1.05,"e":0.24},{"x":7.75,"y":0.66,"e":0.24},
      {"x":0.52,"y":0.97,"e":0.1},{"x":0.54,"y":1.1,"e":0.1},{"x":0.56,"y":0.89,"e":0.1},{"x":0.585,"y":1.04,"e":0.1},{"x":0.61,"y":0.93,"e":0.1},{"x":0.635,"y":1.08,"e":0.1},{"x":0.66,"y":0.97,"e":0.1},{"x":0.685,"y":1.06,"e":0.1},{"x":0.715,"y":1.12,"e":0.1},{"x":0.745,"y":0.9,"e":0.1},{"x":0.775,"y":1.03,"e":0.1},{"x":0.805,"y":0.95,"e":0.1},{"x":0.84,"y":1.08,"e":0.1},{"x":0.875,"y":0.92,"e":0.1},{"x":0.91,"y":1.0,"e":0.1},{"x":0.95,"y":1.12,"e":0.1},{"x":0.99,"y":0.95,"e":0.1},{"x":1.03,"y":1.04,"e":0.1},{"x":1.07,"y":0.91,"e":0.1},{"x":1.115,"y":1.06,"e":0.1},{"x":1.16,"y":0.98,"e":0.1},{"x":1.205,"y":1.1,"e":0.11},{"x":1.255,"y":0.93,"e":0.11},{"x":1.305,"y":1.05,"e":0.11},{"x":1.36,"y":0.86,"e":0.11},{"x":1.415,"y":1.12,"e":0.11},{"x":1.47,"y":0.97,"e":0.11},{"x":1.53,"y":1.08,"e":0.11},{"x":1.595,"y":0.9,"e":0.11},{"x":1.665,"y":1.02,"e":0.11},{"x":1.73,"y":0.95,"e":0.11},{"x":1.8,"y":1.13,"e":0.11},{"x":1.875,"y":0.91,"e":0.11},{"x":1.95,"y":1.04,"e":0.11},{"x":2.03,"y":0.88,"e":0.11},{"x":2.11,"y":1.14,"e":0.11},{"x":2.195,"y":0.98,"e":0.12},{"x":2.285,"y":1.06,"e":0.14},{"x":2.38,"y":0.85,"e":0.14},{"x":2.48,"y":1.12,"e":0.14},{"x":2.58,"y":0.95,"e":0.14},{"x":2.685,"y":1.18,"e":0.14},{"x":2.795,"y":0.9,"e":0.14},{"x":2.905,"y":1.02,"e":0.14},{"x":3.02,"y":0.78,"e":0.14},{"x":3.145,"y":1.05,"e":0.14},{"x":3.275,"y":0.88,"e":0.14},{"x":3.405,"y":1.1,"e":0.14},{"x":3.54,"y":0.82,"e":0.15},{"x":3.685,"y":1.0,"e":0.17},{"x":3.835,"y":1.15,"e":0.17},{"x":3.99,"y":0.9,"e":0.17},{"x":4.155,"y":1.08,"e":0.17},{"x":4.325,"y":0.8,"e":0.17},{"x":4.5,"y":1.22,"e":0.17},{"x":4.68,"y":0.95,"e":0.17},{"x":4.87,"y":1.12,"e":0.17},{"x":5.07,"y":0.75,"e":0.2},{"x":5.275,"y":1.06,"e":0.2},{"x":5.49,"y":0.88,"e":0.2},{"x":5.71,"y":1.18,"e":0.2},{"x":5.94,"y":0.92,"e":0.2},{"x":6.185,"y":1.22,"e":0.2},{"x":6.435,"y":0.78,"e":0.22},{"x":6.695,"y":1.0,"e":0.24},{"x":6.965,"y":1.1,"e":0.24},{"x":7.2,"y":0.8,"e":0.24},{"x":7.425,"y":0.95,"e":0.24},{"x":7.65,"y":0.72,"e":0.24}],
    "dB": [{"x":0.58,"y":1.0,"w":0.03,"e":0.06},{"x":0.66,"y":0.99,"w":0.03,"e":0.06},{"x":0.73,"y":0.96,"w":0.03,"e":0.06},{"x":0.82,"y":0.95,"w":0.04,"e":0.06},{"x":0.9,"y":1.1,"w":0.04,"e":0.07},{"x":0.99,"y":0.86,"w":0.04,"e":0.07},{"x":1.07,"y":1.11,"w":0.04,"e":0.07},{"x":1.14,"y":0.95,"w":0.05,"e":0.07},{"x":1.75,"y":1.2,"w":0.07,"e":0.08},{"x":1.92,"y":0.85,"w":0.07,"e":0.08},{"x":2.38,"y":0.97,"w":0.1,"e":0.08},{"x":2.79,"y":1.15,"w":0.12,"e":0.09},{"x":3.11,"y":1.14,"w":0.15,"e":0.1},{"x":3.66,"y":0.9,"w":0.2,"e":0.1},{"x":4.22,"y":1.2,"w":0.25,"e":0.12},{"x":4.85,"y":1.0,"w":0.3,"e":0.12},{"x":6.42,"y":1.19,"w":0.85,"e":0.15}],
    "dK": [{"x":3.1,"y":0.95,"e":0.035},{"x":3.22,"y":1.18,"e":0.035},{"x":3.34,"y":1.04,"e":0.035},{"x":3.46,"y":0.95,"e":0.035},{"x":3.58,"y":1.05,"e":0.035},{"x":3.7,"y":0.98,"e":0.035},{"x":3.84,"y":1.08,"e":0.035},{"x":3.98,"y":0.94,"e":0.035},{"x":4.12,"y":1.01,"e":0.035},{"x":4.27,"y":0.96,"e":0.035},{"x":4.43,"y":1.06,"e":0.035},{"x":4.59,"y":0.97,"e":0.035},{"x":4.76,"y":1.05,"e":0.035},{"x":4.93,"y":0.99,"e":0.035},{"x":5.1,"y":0.96,"e":0.035},{"x":5.3,"y":0.92,"e":0.035},{"x":5.5,"y":0.98,"e":0.035},{"x":5.7,"y":0.91,"e":0.035},{"x":5.9,"y":1.0,"e":0.035},{"x":6.1,"y":0.94,"e":0.035},{"x":6.32,"y":1.03,"e":0.035},{"x":6.55,"y":0.92,"e":0.035},{"x":6.8,"y":1.04,"e":0.035},{"x":7.05,"y":1.08,"e":0.035},{"x":7.3,"y":1.02,"e":0.035},{"x":7.55,"y":0.99,"e":0.035},{"x":7.85,"y":1.03,"e":0.035},{"x":8.13,"y":0.95,"e":0.035},{"x":8.43,"y":1.04,"e":0.035},{"x":8.74,"y":1.0,"e":0.035},{"x":9.06,"y":1.05,"e":0.035},{"x":9.4,"y":0.97,"e":0.035},{"x":9.74,"y":1.02,"e":0.035},{"x":10.1,"y":0.97,"e":0.045},{"x":10.5,"y":1.06,"e":0.045},{"x":10.9,"y":1.01,"e":0.045},{"x":11.3,"y":0.96,"e":0.045},{"x":11.7,"y":1.03,"e":0.045},{"x":12.1,"y":0.98,"e":0.045},{"x":12.5,"y":1.09,"e":0.045},{"x":13.0,"y":1.14,"e":0.045},{"x":13.5,"y":0.97,"e":0.045},{"x":14.0,"y":0.9,"e":0.045},{"x":14.5,"y":1.02,"e":0.045},{"x":15.0,"y":0.98,"e":0.045},{"x":15.6,"y":1.04,"e":0.045},{"x":16.2,"y":0.96,"e":0.045},{"x":16.8,"y":1.02,"e":0.045},{"x":17.4,"y":0.99,"e":0.045},{"x":18.0,"y":1.14,"e":0.045},{"x":18.7,"y":1.04,"e":0.045},{"x":19.4,"y":0.96,"e":0.045},{"x":20.1,"y":1.06,"e":0.06},{"x":20.8,"y":0.98,"e":0.06},{"x":21.6,"y":1.03,"e":0.06},{"x":22.4,"y":0.95,"e":0.06},{"x":23.2,"y":1.04,"e":0.06},{"x":24.0,"y":0.97,"e":0.06},{"x":24.9,"y":1.02,"e":0.06},{"x":25.8,"y":0.99,"e":0.06},{"x":26.8,"y":0.97,"e":0.06},
      {"x":3.16,"y":1.01,"e":0.035},{"x":3.28,"y":0.96,"e":0.035},{"x":3.4,"y":1.07,"e":0.035},{"x":3.52,"y":1.0,"e":0.035},{"x":3.64,"y":0.96,"e":0.035},{"x":3.77,"y":1.03,"e":0.035},{"x":3.91,"y":1.0,"e":0.035},{"x":4.05,"y":1.05,"e":0.035},{"x":4.2,"y":0.98,"e":0.035},{"x":4.35,"y":1.02,"e":0.035},{"x":4.51,"y":0.96,"e":0.035},{"x":4.67,"y":1.03,"e":0.035},{"x":4.84,"y":0.97,"e":0.035},{"x":5.02,"y":1.02,"e":0.035},{"x":5.2,"y":0.95,"e":0.035},{"x":5.4,"y":0.97,"e":0.035},{"x":5.6,"y":0.93,"e":0.035},{"x":5.8,"y":0.97,"e":0.035},{"x":6.0,"y":0.92,"e":0.035},{"x":6.21,"y":0.99,"e":0.035},{"x":6.43,"y":0.95,"e":0.035},{"x":6.67,"y":0.98,"e":0.035},{"x":6.92,"y":1.02,"e":0.035},{"x":7.17,"y":1.05,"e":0.035},{"x":7.42,"y":1.0,"e":0.035},{"x":7.7,"y":0.99,"e":0.035},{"x":7.99,"y":1.03,"e":0.035},{"x":8.28,"y":0.98,"e":0.035},{"x":8.58,"y":1.01,"e":0.035},{"x":8.9,"y":0.96,"e":0.035},{"x":9.23,"y":1.03,"e":0.035},{"x":9.57,"y":1.0,"e":0.035},{"x":9.92,"y":1.04,"e":0.035},{"x":10.3,"y":0.99,"e":0.045},{"x":10.7,"y":1.03,"e":0.045},{"x":11.1,"y":0.98,"e":0.045},{"x":11.5,"y":1.02,"e":0.045},{"x":11.9,"y":0.97,"e":0.045},{"x":12.3,"y":1.04,"e":0.045},{"x":12.75,"y":1.11,"e":0.045},{"x":13.25,"y":1.02,"e":0.045},{"x":13.75,"y":0.95,"e":0.045},{"x":14.25,"y":1.0,"e":0.045},{"x":14.75,"y":1.03,"e":0.045},{"x":15.3,"y":0.97,"e":0.045},{"x":15.9,"y":1.02,"e":0.045},{"x":16.5,"y":0.99,"e":0.045},{"x":17.1,"y":1.04,"e":0.045},{"x":17.7,"y":1.08,"e":0.045},{"x":18.35,"y":0.98,"e":0.045},{"x":19.05,"y":1.05,"e":0.045},{"x":19.75,"y":1.0,"e":0.045},{"x":20.45,"y":0.97,"e":0.06},{"x":21.2,"y":1.04,"e":0.06},{"x":22.0,"y":1.01,"e":0.06},{"x":22.8,"y":0.97,"e":0.06},{"x":23.6,"y":1.03,"e":0.06},{"x":24.45,"y":0.98,"e":0.06},{"x":25.35,"y":1.03,"e":0.06},{"x":26.3,"y":0.98,"e":0.06}],
    "dKh": [{"x":28.0,"y":1.07,"w":0.7,"e":0.07},{"x":27.8,"y":0.86,"w":0.7,"e":0.08},{"x":29.3,"y":0.94,"w":0.8,"e":0.08},{"x":29.5,"y":0.78,"w":0.8,"e":0.08},{"x":31.0,"y":0.99,"w":0.9,"e":0.09},{"x":30.9,"y":0.84,"w":0.9,"e":0.09},{"x":33.4,"y":1.05,"w":1.2,"e":0.1},{"x":33.5,"y":0.9,"w":1.2,"e":0.1},{"x":36.4,"y":1.02,"w":1.4,"e":0.1},{"x":36.8,"y":0.97,"w":1.4,"e":0.1},{"x":40.5,"y":1.14,"w":2.3,"e":0.14},{"x":40.9,"y":0.8,"w":2.3,"e":0.14},{"x":46.0,"y":1.2,"w":2.7,"e":0.2},{"x":46.4,"y":1.05,"w":2.7,"e":0.2},{"x":52.8,"y":1.05,"w":4,"e":0.3},{"x":54.4,"y":0.93,"w":4.3,"e":0.35},{"x":66.6,"y":0.98,"w":7,"e":0.5}],
    "dT": [{"x":0.615,"y":0.717,"t":"(d)"},{"x":1.376,"y":0.662,"t":"P.Cov."}]
  },
  "vconcat": [
    {
      "width": 1059,
      "height": 547,
      "encoding": {
        "x": {"field": "x", "type": "quantitative", "scale": {"type": "log", "domain": [0.5, 78], "nice": false}, "axis": null},
        "y": {"field": "y", "type": "quantitative", "scale": {"type": "log", "domain": [0.00001, 10], "nice": false}, "axis": null}
      },
      "resolve": {"axis": {"x": "independent", "y": "independent"}},
      "layer": [
        {
          "data": {"name": "aO"},
          "mark": {"type": "point", "opacity": 0},
          "encoding": {
            "x": {"field": "x", "type": "quantitative", "scale": {"type": "log", "domain": [0.5, 78], "nice": false},
              "axis": {"orient": "bottom", "values": [0.6,0.7,0.8,0.9,1,2,3,4,5,6,7,8,9,10,20,30,40,50,60,70], "tickSize": {"condition": {"test": "datum.value==1||datum.value==3||datum.value==10||datum.value==30||datum.value==70", "value": -16}, "value": -8}, "labels": false, "title": null, "minExtent": 0, "maxExtent": 0}},
            "y": {"field": "y", "type": "quantitative", "scale": {"type": "log", "domain": [0.00001, 10], "nice": false},
              "axis": {"orient": "left", "values": [0.00001,0.00002,0.00003,0.00004,0.00005,0.00006,0.00007,0.00008,0.00009,0.0001,0.0002,0.0003,0.0004,0.0005,0.0006,0.0007,0.0008,0.0009,0.001,0.002,0.003,0.004,0.005,0.006,0.007,0.008,0.009,0.01,0.02,0.03,0.04,0.05,0.06,0.07,0.08,0.09,0.1,0.2,0.3,0.4,0.5,0.6,0.7,0.8,0.9,1,2,3,4,5,6,7,8,9,10],
                "tickSize": {"condition": {"test": "abs(log(datum.value)/LN10 - round(log(datum.value)/LN10)) < 0.001", "value": -16}, "value": -8},
                "labelExpr": "abs(log(datum.value)/LN10 - round(log(datum.value)/LN10)) > 0.001 ? '' : datum.value > 5 ? '10' : datum.value > 0.5 ? '1' : datum.value > 0.05 ? '0.1' : datum.value > 0.005 ? '0.01' : datum.value > 0.0005 ? '10⁻³' : datum.value > 0.00005 ? '10⁻⁴' : '10⁻⁵'",
                "labelFontSize": 33, "labelPadding": 35, "labelFlush": true, "labelOverlap": false, "labelBound": false,
                "title": "Norm. counts s⁻¹ keV⁻¹", "titleFontSize": 38, "titleX": -98, "titleBaseline": "alphabetic"}}
          }
        },
        {
          "data": {"name": "aO"},
          "mark": {"type": "point", "opacity": 0},
          "encoding": {
            "x": {"field": "x", "type": "quantitative", "scale": {"type": "log", "domain": [0.5, 78], "nice": false},
              "axis": {"orient": "top", "values": [0.6,0.7,0.8,0.9,1,2,3,4,5,6,7,8,9,10,20,30,40,50,60,70], "tickSize": {"condition": {"test": "datum.value==1||datum.value==3||datum.value==10||datum.value==30||datum.value==70", "value": -16}, "value": -8}, "labels": false, "title": null, "minExtent": 0, "maxExtent": 0}},
            "y": {"field": "y", "type": "quantitative", "scale": {"type": "log", "domain": [0.00001, 10], "nice": false},
              "axis": {"orient": "right", "values": [0.00001,0.00002,0.00003,0.00004,0.00005,0.00006,0.00007,0.00008,0.00009,0.0001,0.0002,0.0003,0.0004,0.0005,0.0006,0.0007,0.0008,0.0009,0.001,0.002,0.003,0.004,0.005,0.006,0.007,0.008,0.009,0.01,0.02,0.03,0.04,0.05,0.06,0.07,0.08,0.09,0.1,0.2,0.3,0.4,0.5,0.6,0.7,0.8,0.9,1,2,3,4,5,6,7,8,9,10],
                "tickSize": {"condition": {"test": "abs(log(datum.value)/LN10 - round(log(datum.value)/LN10)) < 0.001", "value": -16}, "value": -8}, "labels": false, "title": null, "minExtent": 0, "maxExtent": 0}}
          }
        },
        {"data": {"name": "aO"}, "mark": {"type": "line", "color": "#f28a22", "strokeWidth": 1.6}},
        {"data": {"name": "aD"}, "mark": {"type": "line", "color": "black", "strokeWidth": 1.6, "strokeDash": [6, 2]}},
        {"data": {"name": "aKm"}, "mark": {"type": "line", "color": "black", "strokeWidth": 1.6, "interpolate": "step-after"}},
        {"data": {"name": "aRm"}, "mark": {"type": "line", "color": "#ee2222", "strokeWidth": 1.6, "interpolate": "step-after"}},
        {"data": {"name": "aB"}, "mark": {"type": "errorbar", "color": "#6c9bd2", "thickness": 2}, "encoding": {"yError": {"field": "e"}}},
        {"data": {"name": "aB"}, "mark": {"type": "errorbar", "color": "#6c9bd2", "thickness": 2}, "encoding": {"xError": {"field": "w"}}},
        {"data": {"name": "aB"}, "mark": {"type": "point", "filled": true, "color": "#6c9bd2", "size": 230, "opacity": 1}},
        {"data": {"name": "aR"}, "mark": {"type": "errorbar", "color": "#f03c3c", "thickness": 2}, "encoding": {"yError": {"field": "e"}}},
        {"data": {"name": "aR"}, "mark": {"type": "point", "filled": true, "color": "#f01c1c", "size": 75, "opacity": 1}},
        {"data": {"name": "aKh"}, "mark": {"type": "errorbar", "color": "black", "thickness": 2}, "encoding": {"yError": {"field": "e"}}},
        {"data": {"name": "aKh"}, "mark": {"type": "errorbar", "color": "black", "thickness": 2}, "encoding": {"xError": {"field": "w"}}},
        {"data": {"name": "aKh"}, "mark": {"type": "point", "filled": true, "color": "black", "size": 90, "opacity": 1}},
        {"data": {"name": "aK"}, "mark": {"type": "point", "filled": true, "color": "black", "size": 100, "opacity": 1}},
        {"data": {"name": "aT"}, "mark": {"type": "text", "font": "Liberation Serif", "fontSize": 50, "color": "#3a3a3a"}, "encoding": {"text": {"field": "t"}}},
        {"data": {"name": "aTo"}, "mark": {"type": "text", "font": "Liberation Serif", "fontSize": 50, "color": "#f28a22"}, "encoding": {"text": {"field": "t"}}}
      ]
    },
    {
      "width": 1059,
      "height": 184,
      "encoding": {
        "x": {"field": "x", "type": "quantitative", "scale": {"type": "log", "domain": [0.5, 78], "nice": false}, "axis": null},
        "y": {"field": "y", "type": "quantitative", "scale": {"domain": [0.5, 1.5], "nice": false, "zero": false}, "axis": null}
      },
      "resolve": {"axis": {"x": "independent", "y": "independent"}},
      "layer": [
        {
          "data": {"name": "one"},
          "mark": {"type": "point", "opacity": 0},
          "encoding": {
            "x": {"field": "x", "type": "quantitative", "scale": {"type": "log", "domain": [0.5, 78], "nice": false},
              "axis": {"orient": "bottom", "values": [0.6,0.7,0.8,0.9,1,2,3,4,5,6,7,8,9,10,20,30,40,50,60,70], "tickSize": {"condition": {"test": "datum.value==1||datum.value==3||datum.value==10||datum.value==30||datum.value==70", "value": -16}, "value": -8}, "labels": false, "title": null, "minExtent": 0, "maxExtent": 0}},
            "y": {"field": "y", "type": "quantitative", "scale": {"domain": [0.5, 1.5], "nice": false, "zero": false},
              "axis": {"orient": "left", "values": [0.55,0.6,0.65,0.7,0.75,0.8,0.85,0.9,0.95,1,1.05,1.1,1.15,1.2,1.25,1.3,1.35,1.4,1.45],
                "tickSize": {"condition": {"test": "datum.value==0.6||datum.value==0.8||datum.value==1||datum.value==1.2", "value": -16}, "value": -8},
                "labelExpr": "datum.value==0.6 ? '0.6' : datum.value==0.8 ? '0.8' : datum.value==1 ? '1' : datum.value==1.2 ? '1.2' : ''",
                "labelFontSize": 36, "labelPadding": 22, "labelFlush": false, "labelOverlap": false, "labelBound": false,
                "title": "ratio", "titleFontSize": 36, "titleX": -89, "titleBaseline": "alphabetic"}}
          }
        },
        {
          "data": {"name": "one"},
          "mark": {"type": "point", "opacity": 0},
          "encoding": {
            "x": {"field": "x", "type": "quantitative", "scale": {"type": "log", "domain": [0.5, 78], "nice": false},
              "axis": {"orient": "top", "values": [0.6,0.7,0.8,0.9,1,2,3,4,5,6,7,8,9,10,20,30,40,50,60,70], "tickSize": {"condition": {"test": "datum.value==1||datum.value==3||datum.value==10||datum.value==30||datum.value==70", "value": -16}, "value": -8}, "labels": false, "title": null, "minExtent": 0, "maxExtent": 0}},
            "y": {"field": "y", "type": "quantitative", "scale": {"domain": [0.5, 1.5], "nice": false, "zero": false},
              "axis": {"orient": "right", "values": [0.55,0.6,0.65,0.7,0.75,0.8,0.85,0.9,0.95,1,1.05,1.1,1.15,1.2,1.25,1.3,1.35,1.4,1.45],
                "tickSize": {"condition": {"test": "datum.value==0.6||datum.value==0.8||datum.value==1||datum.value==1.2", "value": -16}, "value": -8}, "labels": false, "title": null, "minExtent": 0, "maxExtent": 0}}
          }
        },
        {"data": {"name": "bB"}, "mark": {"type": "errorbar", "color": "#6c9bd2", "thickness": 2}, "encoding": {"yError": {"field": "e"}}},
        {"data": {"name": "bB"}, "mark": {"type": "errorbar", "color": "#6c9bd2", "thickness": 2}, "encoding": {"xError": {"field": "w"}}},
        {"data": {"name": "bB"}, "mark": {"type": "point", "filled": true, "color": "#6c9bd2", "size": 230, "opacity": 1}},
        {"data": {"name": "bR"}, "mark": {"type": "errorbar", "color": "#f03c3c", "thickness": 2}, "encoding": {"yError": {"field": "e"}}},
        {"data": {"name": "bR"}, "mark": {"type": "point", "filled": true, "color": "#f01c1c", "size": 75, "opacity": 1}},
        {"data": {"name": "bK"}, "mark": {"type": "errorbar", "color": "black", "thickness": 2}, "encoding": {"yError": {"field": "e"}}},
        {"data": {"name": "bK"}, "mark": {"type": "point", "filled": true, "color": "black", "size": 90, "opacity": 1}},
        {"data": {"name": "bKh"}, "mark": {"type": "errorbar", "color": "black", "thickness": 2}, "encoding": {"yError": {"field": "e"}}},
        {"data": {"name": "bKh"}, "mark": {"type": "errorbar", "color": "black", "thickness": 2}, "encoding": {"xError": {"field": "w"}}},
        {"data": {"name": "bKh"}, "mark": {"type": "point", "filled": true, "color": "black", "size": 90, "opacity": 1}},
        {"data": {"name": "one"}, "mark": {"type": "line", "color": "#ff00ff", "strokeWidth": 2}},
        {"data": {"name": "bT"}, "mark": {"type": "text", "font": "Liberation Serif", "fontSize": 50, "color": "black"}, "encoding": {"text": {"field": "t"}}}
      ]
    },
    {
      "width": 1059,
      "height": 183,
      "encoding": {
        "x": {"field": "x", "type": "quantitative", "scale": {"type": "log", "domain": [0.5, 78], "nice": false}, "axis": null},
        "y": {"field": "y", "type": "quantitative", "scale": {"domain": [0.5, 1.5], "nice": false, "zero": false}, "axis": null}
      },
      "resolve": {"axis": {"x": "independent", "y": "independent"}},
      "layer": [
        {
          "data": {"name": "one"},
          "mark": {"type": "point", "opacity": 0},
          "encoding": {
            "x": {"field": "x", "type": "quantitative", "scale": {"type": "log", "domain": [0.5, 78], "nice": false},
              "axis": {"orient": "bottom", "values": [0.6,0.7,0.8,0.9,1,2,3,4,5,6,7,8,9,10,20,30,40,50,60,70], "tickSize": {"condition": {"test": "datum.value==1||datum.value==3||datum.value==10||datum.value==30||datum.value==70", "value": -16}, "value": -8}, "labels": false, "title": null, "minExtent": 0, "maxExtent": 0}},
            "y": {"field": "y", "type": "quantitative", "scale": {"domain": [0.5, 1.5], "nice": false, "zero": false},
              "axis": {"orient": "left", "values": [0.55,0.6,0.65,0.7,0.75,0.8,0.85,0.9,0.95,1,1.05,1.1,1.15,1.2,1.25,1.3,1.35,1.4,1.45],
                "tickSize": {"condition": {"test": "datum.value==0.6||datum.value==0.8||datum.value==1||datum.value==1.2", "value": -16}, "value": -8},
                "labelExpr": "datum.value==0.6 ? '0.6' : datum.value==0.8 ? '0.8' : datum.value==1 ? '1' : datum.value==1.2 ? '1.2' : ''",
                "labelFontSize": 36, "labelPadding": 22, "labelFlush": false, "labelOverlap": false, "labelBound": false,
                "title": "ratio", "titleFontSize": 36, "titleX": -89, "titleBaseline": "alphabetic"}}
          }
        },
        {
          "data": {"name": "one"},
          "mark": {"type": "point", "opacity": 0},
          "encoding": {
            "x": {"field": "x", "type": "quantitative", "scale": {"type": "log", "domain": [0.5, 78], "nice": false},
              "axis": {"orient": "top", "values": [0.6,0.7,0.8,0.9,1,2,3,4,5,6,7,8,9,10,20,30,40,50,60,70], "tickSize": {"condition": {"test": "datum.value==1||datum.value==3||datum.value==10||datum.value==30||datum.value==70", "value": -16}, "value": -8}, "labels": false, "title": null, "minExtent": 0, "maxExtent": 0}},
            "y": {"field": "y", "type": "quantitative", "scale": {"domain": [0.5, 1.5], "nice": false, "zero": false},
              "axis": {"orient": "right", "values": [0.55,0.6,0.65,0.7,0.75,0.8,0.85,0.9,0.95,1,1.05,1.1,1.15,1.2,1.25,1.3,1.35,1.4,1.45],
                "tickSize": {"condition": {"test": "datum.value==0.6||datum.value==0.8||datum.value==1||datum.value==1.2", "value": -16}, "value": -8}, "labels": false, "title": null, "minExtent": 0, "maxExtent": 0}}
          }
        },
        {"data": {"name": "cB"}, "mark": {"type": "errorbar", "color": "#6c9bd2", "thickness": 2}, "encoding": {"yError": {"field": "e"}}},
        {"data": {"name": "cB"}, "mark": {"type": "errorbar", "color": "#6c9bd2", "thickness": 2}, "encoding": {"xError": {"field": "w"}}},
        {"data": {"name": "cB"}, "mark": {"type": "point", "filled": true, "color": "#6c9bd2", "size": 230, "opacity": 1}},
        {"data": {"name": "cR"}, "mark": {"type": "errorbar", "color": "#f03c3c", "thickness": 2}, "encoding": {"yError": {"field": "e"}}},
        {"data": {"name": "cR"}, "mark": {"type": "point", "filled": true, "color": "#f01c1c", "size": 75, "opacity": 1}},
        {"data": {"name": "cK"}, "mark": {"type": "errorbar", "color": "black", "thickness": 2}, "encoding": {"yError": {"field": "e"}}},
        {"data": {"name": "cK"}, "mark": {"type": "point", "filled": true, "color": "black", "size": 90, "opacity": 1}},
        {"data": {"name": "cKh"}, "mark": {"type": "errorbar", "color": "black", "thickness": 2}, "encoding": {"yError": {"field": "e"}}},
        {"data": {"name": "cKh"}, "mark": {"type": "errorbar", "color": "black", "thickness": 2}, "encoding": {"xError": {"field": "w"}}},
        {"data": {"name": "cKh"}, "mark": {"type": "point", "filled": true, "color": "black", "size": 90, "opacity": 1}},
        {"data": {"name": "one"}, "mark": {"type": "line", "color": "#ff00ff", "strokeWidth": 2}},
        {"data": {"name": "cT"}, "mark": {"type": "text", "font": "Liberation Serif", "fontSize": 50, "color": "black"}, "encoding": {"text": {"field": "t"}}}
      ]
    },
    {
      "width": 1059,
      "height": 183,
      "encoding": {
        "x": {"field": "x", "type": "quantitative", "scale": {"type": "log", "domain": [0.5, 78], "nice": false}, "axis": null},
        "y": {"field": "y", "type": "quantitative", "scale": {"domain": [0.5, 1.5], "nice": false, "zero": false}, "axis": null}
      },
      "resolve": {"axis": {"x": "independent", "y": "independent"}},
      "layer": [
        {
          "data": {"name": "one"},
          "mark": {"type": "point", "opacity": 0},
          "encoding": {
            "x": {"field": "x", "type": "quantitative", "scale": {"type": "log", "domain": [0.5, 78], "nice": false},
              "axis": {"orient": "bottom", "values": [0.6,0.7,0.8,0.9,1,2,3,4,5,6,7,8,9,10,20,30,40,50,60,70], "tickSize": {"condition": {"test": "datum.value==1||datum.value==3||datum.value==10||datum.value==30||datum.value==70", "value": -16}, "value": -8},
                "labelExpr": "datum.value==1||datum.value==3||datum.value==10||datum.value==30||datum.value==70 ? '' + datum.value : ''",
                "labelFontSize": 33, "labelPadding": 32, "labelFlush": false, "labelOverlap": false, "labelBound": false,
                "title": "Channel Energy (keV)", "titleFontSize": 37, "titlePadding": 8}},
            "y": {"field": "y", "type": "quantitative", "scale": {"domain": [0.5, 1.5], "nice": false, "zero": false},
              "axis": {"orient": "left", "values": [0.55,0.6,0.65,0.7,0.75,0.8,0.85,0.9,0.95,1,1.05,1.1,1.15,1.2,1.25,1.3,1.35,1.4,1.45],
                "tickSize": {"condition": {"test": "datum.value==0.6||datum.value==0.8||datum.value==1||datum.value==1.2", "value": -16}, "value": -8},
                "labelExpr": "datum.value==0.6 ? '0.6' : datum.value==0.8 ? '0.8' : datum.value==1 ? '1' : datum.value==1.2 ? '1.2' : ''",
                "labelFontSize": 36, "labelPadding": 22, "labelFlush": false, "labelOverlap": false, "labelBound": false,
                "title": "ratio", "titleFontSize": 36, "titleX": -89, "titleBaseline": "alphabetic"}}
          }
        },
        {
          "data": {"name": "one"},
          "mark": {"type": "point", "opacity": 0},
          "encoding": {
            "x": {"field": "x", "type": "quantitative", "scale": {"type": "log", "domain": [0.5, 78], "nice": false},
              "axis": {"orient": "top", "values": [0.6,0.7,0.8,0.9,1,2,3,4,5,6,7,8,9,10,20,30,40,50,60,70], "tickSize": {"condition": {"test": "datum.value==1||datum.value==3||datum.value==10||datum.value==30||datum.value==70", "value": -16}, "value": -8}, "labels": false, "title": null, "minExtent": 0, "maxExtent": 0}},
            "y": {"field": "y", "type": "quantitative", "scale": {"domain": [0.5, 1.5], "nice": false, "zero": false},
              "axis": {"orient": "right", "values": [0.55,0.6,0.65,0.7,0.75,0.8,0.85,0.9,0.95,1,1.05,1.1,1.15,1.2,1.25,1.3,1.35,1.4,1.45],
                "tickSize": {"condition": {"test": "datum.value==0.6||datum.value==0.8||datum.value==1||datum.value==1.2", "value": -16}, "value": -8}, "labels": false, "title": null, "minExtent": 0, "maxExtent": 0}}
          }
        },
        {"data": {"name": "dB"}, "mark": {"type": "errorbar", "color": "#6c9bd2", "thickness": 2}, "encoding": {"yError": {"field": "e"}}},
        {"data": {"name": "dB"}, "mark": {"type": "errorbar", "color": "#6c9bd2", "thickness": 2}, "encoding": {"xError": {"field": "w"}}},
        {"data": {"name": "dB"}, "mark": {"type": "point", "filled": true, "color": "#6c9bd2", "size": 230, "opacity": 1}},
        {"data": {"name": "dR"}, "mark": {"type": "errorbar", "color": "#f03c3c", "thickness": 2}, "encoding": {"yError": {"field": "e"}}},
        {"data": {"name": "dR"}, "mark": {"type": "point", "filled": true, "color": "#f01c1c", "size": 75, "opacity": 1}},
        {"data": {"name": "dK"}, "mark": {"type": "errorbar", "color": "black", "thickness": 2}, "encoding": {"yError": {"field": "e"}}},
        {"data": {"name": "dK"}, "mark": {"type": "point", "filled": true, "color": "black", "size": 90, "opacity": 1}},
        {"data": {"name": "dKh"}, "mark": {"type": "errorbar", "color": "black", "thickness": 2}, "encoding": {"yError": {"field": "e"}}},
        {"data": {"name": "dKh"}, "mark": {"type": "errorbar", "color": "black", "thickness": 2}, "encoding": {"xError": {"field": "w"}}},
        {"data": {"name": "dKh"}, "mark": {"type": "point", "filled": true, "color": "black", "size": 90, "opacity": 1}},
        {"data": {"name": "one"}, "mark": {"type": "line", "color": "#ff00ff", "strokeWidth": 2}},
        {"data": {"name": "dT"}, "mark": {"type": "text", "font": "Liberation Serif", "fontSize": 50, "color": "black"}, "encoding": {"text": {"field": "t"}}}
      ]
    }
  ]
}
